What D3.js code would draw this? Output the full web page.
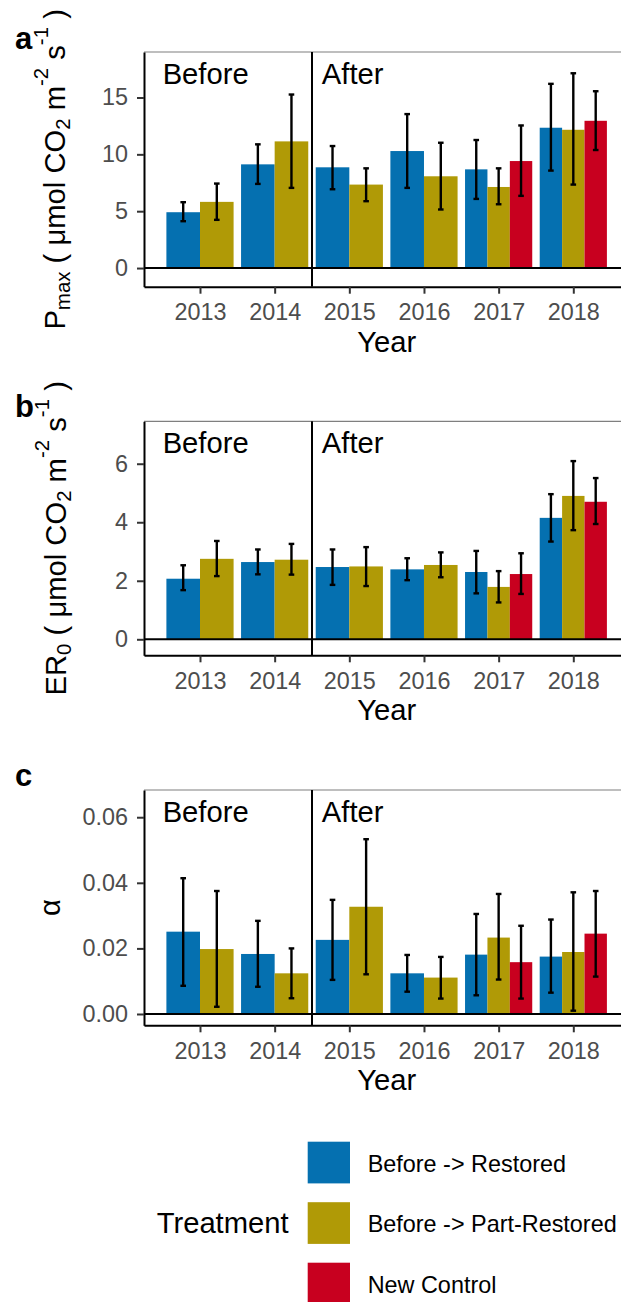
<!DOCTYPE html>
<html>
<head>
<meta charset="utf-8">
<script src="https://cdn.jsdelivr.net/npm/d3@7"></script>
<style>
  html, body { margin: 0; padding: 0; background: #fff; }
  svg { display: block; font-family: "Liberation Sans", Arial, sans-serif; }
  text { white-space: pre; }
</style>
</head>
<body>
<script>
// ---- data -------------------------------------------------------------
const years = ["2013", "2014", "2015", "2016", "2017", "2018"];
const treatments = ["Before -> Restored", "Before -> Part-Restored", "New Control"];
const treatmentColors = ["#0570B0", "#B09A06", "#C8001F"];
const periods = ["Before", "After"];

// Pmax (µmol CO2 m-2 s-1): mean, lower and upper error limits
const pmaxRestored   = [4.91, 9.12, 8.86, 10.29, 8.68, 12.34];
const pmaxRestoredLo = [4.12, 7.40, 6.93, 7.05, 6.08, 8.57];
const pmaxRestoredHi = [5.79, 10.88, 10.73, 13.54, 11.26, 16.20];
const pmaxPart       = [5.82, 11.14, 7.34, 8.07, 7.13, 12.16];
const pmaxPartLo     = [4.24, 7.05, 5.88, 5.15, 5.61, 7.34];
const pmaxPartHi     = [7.43, 15.26, 8.77, 11.02, 8.77, 17.13];
const pmaxControl    = [null, null, null, null, 9.41, 12.95];
const pmaxControlLo  = [null, null, null, null, 6.35, 10.38];
const pmaxControlHi  = [null, null, null, null, 12.54, 15.55];
const pmaxTicks = [0, 5, 10, 15];

// ER0 (µmol CO2 m-2 s-1)
const er0Restored   = [2.07, 2.64, 2.47, 2.39, 2.30, 4.15];
const er0RestoredLo = [1.68, 2.22, 1.86, 2.02, 1.57, 3.34];
const er0RestoredHi = [2.53, 3.07, 3.07, 2.77, 3.02, 4.96];
const er0Part       = [2.75, 2.72, 2.49, 2.54, 1.79, 4.90];
const er0PartLo     = [2.16, 2.21, 1.82, 2.12, 1.26, 3.73];
const er0PartHi     = [3.36, 3.26, 3.15, 2.97, 2.33, 6.09];
const er0Control    = [null, null, null, null, 2.23, 4.70];
const er0ControlLo  = [null, null, null, null, 1.55, 3.94];
const er0ControlHi  = [null, null, null, null, 2.94, 5.51];
const er0Ticks = [0, 2, 4, 6];

// alpha (quantum efficiency)
const alphaRestored   = [0.0251, 0.0183, 0.0226, 0.0124, 0.0181, 0.0175];
const alphaRestoredLo = [0.0086, 0.0083, 0.0104, 0.0068, 0.0057, 0.0065];
const alphaRestoredHi = [0.0414, 0.0284, 0.0348, 0.0180, 0.0305, 0.0288];
const alphaPart       = [0.0198, 0.0124, 0.0327, 0.0111, 0.0233, 0.0189];
const alphaPartLo     = [0.0022, 0.0048, 0.0121, 0.0047, 0.0105, 0.0010];
const alphaPartHi     = [0.0375, 0.0200, 0.0533, 0.0174, 0.0366, 0.0371];
const alphaControl    = [null, null, null, null, 0.0158, 0.0245];
const alphaControlLo  = [null, null, null, null, 0.0047, 0.0114];
const alphaControlHi  = [null, null, null, null, 0.0269, 0.0375];
const alphaTicks = [0, 0.02, 0.04, 0.06];

// ---- layout -----------------------------------------------------------
const W = 621, H = 1302;
const panelLeft = 144, panelRight = 629.3;
const tickFont = 23.4, titleFont = 29.2;

const svg = d3.select("body").append("svg")
  .attr("width", W).attr("height", H)
  .attr("xml:space", "preserve");

const x = d3.scalePoint().domain(years).range([panelLeft, panelRight]).padding(0.75);
const step = x.step();
const groupWidth = 0.9 * step;

const panels = [
  {
    letter: "a", top: 52, bottom: 286.7, domain: [-1.64, 19.0], ticks: pmaxTicks, fmt: d3.format("d"),
    series: [
      [pmaxRestored, pmaxRestoredLo, pmaxRestoredHi],
      [pmaxPart, pmaxPartLo, pmaxPartHi],
      [pmaxControl, pmaxControlLo, pmaxControlHi]
    ],
    title: [{t: "P"}, {t: "max", s: "sub"}, {t: " ( \u03bcmol CO"}, {t: "2", s: "sub"}, {t: " m"}, {t: "-2", s: "sup"}, {t: " s"}, {t: "-1", s: "sup"}, {t: " )"}],
    titleX: 65, letterY: 48.5
  },
  {
    letter: "b", top: 421.3, bottom: 655.3, domain: [-0.547, 7.45], ticks: er0Ticks, fmt: d3.format("d"),
    series: [
      [er0Restored, er0RestoredLo, er0RestoredHi],
      [er0Part, er0PartLo, er0PartHi],
      [er0Control, er0ControlLo, er0ControlHi]
    ],
    title: [{t: "ER"}, {t: "0", s: "sub"}, {t: " ( \u03bcmol CO"}, {t: "2", s: "sub"}, {t: " m"}, {t: "-2", s: "sup"}, {t: " s"}, {t: "-1", s: "sup"}, {t: " )"}],
    titleX: 66, letterY: 416.7
  },
  {
    letter: "c", top: 790, bottom: 1025.3, domain: [-0.00345, 0.0683], ticks: alphaTicks, fmt: d3.format(".2f"),
    series: [
      [alphaRestored, alphaRestoredLo, alphaRestoredHi],
      [alphaPart, alphaPartLo, alphaPartHi],
      [alphaControl, alphaControlLo, alphaControlHi]
    ],
    title: [{t: "\u03b1"}],
    titleX: 60, letterY: 786
  }
];

function drawTitle(g, parts, cx, cy) {
  const subShift = 5, supShift = 17;
  const text = g.append("text")
    .attr("transform", `translate(${cx},${cy}) rotate(-90)`)
    .attr("text-anchor", "middle")
    .attr("font-size", titleFont)
    .attr("fill", "#000");
  let offset = 0;
  parts.forEach(p => {
    const target = p.s === "sub" ? subShift : p.s === "sup" ? -supShift : 0;
    text.append("tspan")
      .attr("dy", target - offset)
      .attr("font-size", p.s ? titleFont * 0.7 : titleFont)
      .text(p.t);
    offset = target;
  });
}

panels.forEach(p => {
  const g = svg.append("g");
  const y = d3.scaleLinear().domain(p.domain).range([p.bottom, p.top]);

  // top border
  g.append("line")
    .attr("x1", panelLeft).attr("x2", W)
    .attr("y1", p.top).attr("y2", p.top)
    .attr("stroke", "#7f7f7f").attr("stroke-width", 1.2);

  // bars with error bars, dodged within each year
  years.forEach((yr, i) => {
    const present = p.series
      .map((s, k) => ({k, mean: s[0][i], lo: s[1][i], hi: s[2][i]}))
      .filter(d => d.mean != null);
    const bw = groupWidth / present.length;
    present.forEach((d, j) => {
      const bx = x(yr) - groupWidth / 2 + j * bw;
      g.append("rect")
        .attr("x", bx).attr("width", bw)
        .attr("y", y(d.mean)).attr("height", y(0) - y(d.mean))
        .attr("fill", treatmentColors[d.k]);
    });
    present.forEach((d, j) => {
      const cxm = x(yr) - groupWidth / 2 + (j + 0.5) * bw;
      const eb = g.append("g").attr("stroke", "#000").attr("stroke-width", 2.4);
      eb.append("line").attr("x1", cxm).attr("x2", cxm).attr("y1", y(d.lo)).attr("y2", y(d.hi));
      eb.append("line").attr("x1", cxm - 2.8).attr("x2", cxm + 2.8).attr("y1", y(d.lo)).attr("y2", y(d.lo));
      eb.append("line").attr("x1", cxm - 2.8).attr("x2", cxm + 2.8).attr("y1", y(d.hi)).attr("y2", y(d.hi));
    });
  });

  // zero reference line
  g.append("line")
    .attr("x1", panelLeft).attr("x2", W)
    .attr("y1", y(0)).attr("y2", y(0))
    .attr("stroke", "#000").attr("stroke-width", 2);

  // divider between Before and After
  const divX = x(years[1]) + step / 2;
  g.append("line")
    .attr("x1", divX).attr("x2", divX)
    .attr("y1", p.top).attr("y2", p.bottom)
    .attr("stroke", "#000").attr("stroke-width", 2);

  // period labels
  g.append("text").attr("x", x(years[0]) - 0.5 * step).attr("y", p.top + 31.5)
    .attr("font-size", titleFont).text(periods[0]);
  g.append("text").attr("x", x(years[2]) - 0.368 * step).attr("y", p.top + 31.5)
    .attr("font-size", titleFont).text(periods[1]);

  // axes
  const yAxis = g.append("g").attr("transform", `translate(${panelLeft},0)`)
    .call(d3.axisLeft(y).tickValues(p.ticks).tickFormat(p.fmt).tickSize(7).tickSizeOuter(0).tickPadding(9));
  const xAxis = g.append("g").attr("transform", `translate(0,${p.bottom})`)
    .call(d3.axisBottom(x).tickSize(7).tickSizeOuter(0).tickPadding(9.7));
  [yAxis, xAxis].forEach(ax => {
    ax.select(".domain").attr("stroke", "#000").attr("stroke-width", 2);
    ax.selectAll(".tick line").attr("stroke", "#333").attr("stroke-width", 2);
    ax.selectAll(".tick text").attr("fill", "#4D4D4D").attr("font-size", tickFont)
      .attr("font-family", "Liberation Sans, Arial, sans-serif");
  });

  // axis titles
  g.append("text")
    .attr("x", (panelLeft + panelRight) / 2).attr("y", p.bottom + 65)
    .attr("text-anchor", "middle").attr("font-size", titleFont).text("Year");
  drawTitle(g, p.title, p.titleX, (p.top + p.bottom) / 2);

  // panel letter
  g.append("text").attr("x", 15).attr("y", p.letterY)
    .attr("font-size", 31).attr("font-weight", "bold").text(p.letter);
});

// ---- legend -----------------------------------------------------------
const legend = svg.append("g");
legend.append("text").attr("x", 156.7).attr("y", 1233)
  .attr("font-size", titleFont).text("Treatment");
treatments.forEach((t, i) => {
  const ky = 1141.7 + i * 60.5;
  legend.append("rect")
    .attr("x", 307.7).attr("y", ky).attr("width", 42.3).attr("height", 41.7)
    .attr("fill", treatmentColors[i]);
  legend.append("text").attr("x", 367.7).attr("y", ky + 30)
    .attr("font-size", tickFont).text(t);
});
</script>
</body>
</html>
